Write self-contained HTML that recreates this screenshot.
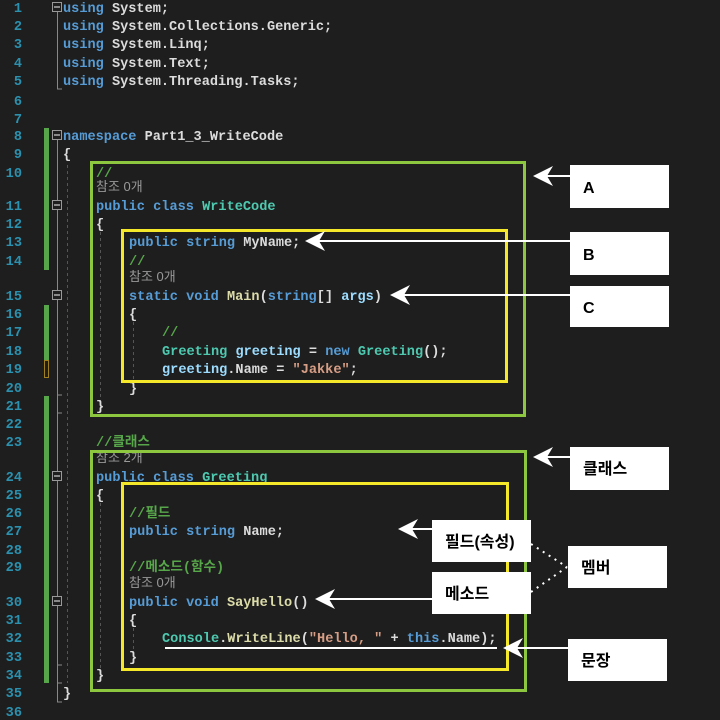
<!DOCTYPE html>
<html><head><meta charset="utf-8"><style>
html,body{margin:0;padding:0;background:#1e1e1e;width:720px;height:720px;overflow:hidden}
svg{display:block}
.ln{font-family:"Liberation Mono",monospace;font-size:13.6px;font-weight:bold;fill:#2b91af;text-anchor:end}
.c{font-family:"Liberation Mono","Noto Sans CJK KR",monospace;font-size:13.6px;font-weight:bold;fill:#dcdcdc}
.r{font-family:"Liberation Sans","Noto Sans CJK KR",sans-serif;font-size:13px;fill:#999}
.k{fill:#569cd6}.t{fill:#4ec9b0}.m{fill:#dcdcaa}.s{fill:#d69d85}.g{fill:#57a64a}.v{fill:#9cdcfe}
.lb{font-family:"Liberation Sans","Noto Sans CJK KR",sans-serif;font-size:16px;font-weight:bold;fill:#000}
</style></head><body>
<svg width="720" height="720" xmlns="http://www.w3.org/2000/svg">
<rect width="720" height="720" fill="#1e1e1e"/>
<!-- line numbers -->
<g class="ln">
<text x="22" y="12">1</text><text x="22" y="30">2</text><text x="22" y="48">3</text><text x="22" y="67">4</text><text x="22" y="85">5</text><text x="22" y="105">6</text><text x="22" y="123">7</text><text x="22" y="140">8</text><text x="22" y="158">9</text><text x="22" y="177">10</text><text x="22" y="210">11</text><text x="22" y="228">12</text><text x="22" y="246">13</text><text x="22" y="265">14</text><text x="22" y="300">15</text><text x="22" y="318">16</text><text x="22" y="336">17</text><text x="22" y="355">18</text><text x="22" y="373">19</text><text x="22" y="392">20</text><text x="22" y="410">21</text><text x="22" y="428">22</text><text x="22" y="446">23</text><text x="22" y="481">24</text><text x="22" y="499">25</text><text x="22" y="517">26</text><text x="22" y="535">27</text><text x="22" y="554">28</text><text x="22" y="571">29</text><text x="22" y="606">30</text><text x="22" y="624">31</text><text x="22" y="642">32</text><text x="22" y="661">33</text><text x="22" y="679">34</text><text x="22" y="697">35</text><text x="22" y="716">36</text>
</g>
<!-- change bars -->
<rect x="44" y="128" width="5" height="142" fill="#57a64a"/>
<rect x="44" y="305" width="5" height="56" fill="#57a64a"/>
<rect x="44.5" y="360.5" width="4" height="17" fill="none" stroke="#a08020" stroke-width="1"/>
<rect x="44" y="396" width="5" height="287" fill="#57a64a"/>
<!-- fold lines -->
<g stroke="#888" stroke-width="1" fill="none">
<path d="M57.5 12 V89 H62"/>
<path d="M57.5 135 V702 H62"/>
<path d="M57.5 395 H62 M57.5 413 H62 M57.5 665 H62 M57.5 683 H62"/>
</g>
<g fill="#1e1e1e" stroke="#999" stroke-width="1">
<rect x="52.5" y="2.5" width="9" height="9"/><rect x="52.5" y="130.5" width="9" height="9"/><rect x="52.5" y="200.5" width="9" height="9"/><rect x="52.5" y="290.5" width="9" height="9"/><rect x="52.5" y="471.5" width="9" height="9"/><rect x="52.5" y="596.5" width="9" height="9"/>
</g>
<g stroke="#ccc" stroke-width="1.2"><path d="M54 7H60M54 135H60M54 205H60M54 295H60M54 476H60M54 601H60"/></g>
<!-- dashed guides -->
<g stroke="#555" stroke-width="1" stroke-dasharray="3,3">
<path d="M67.5 165 V683"/><path d="M100.5 232 V412"/><path d="M100.5 503 V680"/><path d="M133.5 322 V385"/><path d="M133.5 628 V660"/>
</g>
<!-- code -->
<g class="c">
<text x="63" y="12"><tspan class="k">using</tspan> System;</text>
<text x="63" y="30"><tspan class="k">using</tspan> System.Collections.Generic;</text>
<text x="63" y="48"><tspan class="k">using</tspan> System.Linq;</text>
<text x="63" y="67"><tspan class="k">using</tspan> System.Text;</text>
<text x="63" y="85"><tspan class="k">using</tspan> System.Threading.Tasks;</text>
<text x="63" y="140"><tspan class="k">namespace</tspan> Part1_3_WriteCode</text>
<text x="63" y="158">{</text>
<text x="96" y="177" class="g">//</text>
<text x="96" y="210"><tspan class="k">public</tspan> <tspan class="k">class</tspan> <tspan class="t">WriteCode</tspan></text>
<text x="96" y="228">{</text>
<text x="129" y="246"><tspan class="k">public</tspan> <tspan class="k">string</tspan> MyName;</text>
<text x="129" y="265" class="g">//</text>
<text x="129" y="300"><tspan class="k">static</tspan> <tspan class="k">void</tspan> <tspan class="m">Main</tspan>(<tspan class="k">string</tspan>[] <tspan class="v">args</tspan>)</text>
<text x="129" y="318">{</text>
<text x="162" y="336" class="g">//</text>
<text x="162" y="355"><tspan class="t">Greeting</tspan> <tspan class="v">greeting</tspan> = <tspan class="k">new</tspan> <tspan class="t">Greeting</tspan>();</text>
<text x="162" y="373"><tspan class="v">greeting</tspan>.Name = <tspan class="s">"Jakke"</tspan>;</text>
<text x="129" y="392">}</text>
<text x="96" y="410">}</text>
<text x="96" y="446" class="g">//클래스</text>
<text x="96" y="481"><tspan class="k">public</tspan> <tspan class="k">class</tspan> <tspan class="t">Greeting</tspan></text>
<text x="96" y="499">{</text>
<text x="129" y="517" class="g">//필드</text>
<text x="129" y="535"><tspan class="k">public</tspan> <tspan class="k">string</tspan> Name;</text>
<text x="129" y="571" class="g">//메소드(함수)</text>
<text x="129" y="606"><tspan class="k">public</tspan> <tspan class="k">void</tspan> <tspan class="m">SayHello</tspan>()</text>
<text x="129" y="624">{</text>
<text x="162" y="642"><tspan class="t">Console</tspan>.<tspan class="m">WriteLine</tspan>(<tspan class="s">"Hello, "</tspan> + <tspan class="k">this</tspan>.Name);</text>
<text x="129" y="661">}</text>
<text x="96" y="679">}</text>
<text x="63" y="697">}</text>
</g>
<g class="r">
<text x="96" y="191">참조 0개</text>
<text x="129" y="281">참조 0개</text>
<text x="96" y="462">참조 2개</text>
<text x="129" y="587">참조 0개</text>
</g>
<!-- boxes -->
<g fill="none" stroke-width="3">
<rect x="91.5" y="162.5" width="433" height="253" stroke="#8dc63f"/>
<rect x="122.5" y="230.5" width="384" height="151" stroke="#f5e82a"/>
<rect x="91.5" y="451.5" width="434" height="239" stroke="#8dc63f"/>
<rect x="122.5" y="483.5" width="385" height="186" stroke="#f5e82a"/>
</g>
<!-- arrows -->
<g stroke="#fff" stroke-width="2" fill="none">
<path d="M570 176 H540"/><path d="M570 241 H315"/><path d="M570 295 H395"/><path d="M570 457 H540"/>
<path d="M432 529 H408"/><path d="M432 599 H325"/><path d="M568 648 H513"/><path d="M165 648 H497"/>
</g>
<g fill="#fff">
<path d="M533 176 L553 166 L547 176 L553 186Z"/>
<path d="M305 241 L325 231 L319 241 L325 251Z"/>
<path d="M390 295 L410 285 L404 295 L410 305Z"/>
<path d="M533 457 L553 447 L547 457 L553 467Z"/>
<path d="M398 529 L418 519 L412 529 L418 539Z"/>
<path d="M315 599 L335 589 L329 599 L335 609Z"/>
<path d="M503 648 L523 638 L517 648 L523 658Z"/>
</g>
<g stroke="#fff" stroke-width="2" stroke-dasharray="2,5" fill="none">
<path d="M531 544 L567 567"/><path d="M531 592 L567 567"/>
</g>
<!-- labels -->
<g fill="#fff">
<rect x="570" y="165" width="99" height="43"/>
<rect x="570" y="232" width="99" height="43"/>
<rect x="570" y="286" width="99" height="41"/>
<rect x="570" y="447" width="99" height="43"/>
<rect x="432" y="520" width="99" height="42"/>
<rect x="568" y="546" width="99" height="42"/>
<rect x="432" y="572" width="99" height="42"/>
<rect x="568" y="639" width="99" height="42"/>
</g>
<g class="lb">
<text x="583" y="193">A</text>
<text x="583" y="260">B</text>
<text x="583" y="313">C</text>
<text x="583" y="474">클래스</text>
<text x="445" y="547">필드(속성)</text>
<text x="581" y="573">멤버</text>
<text x="445" y="599">메소드</text>
<text x="581" y="666">문장</text>
</g>
</svg>
</body></html>
